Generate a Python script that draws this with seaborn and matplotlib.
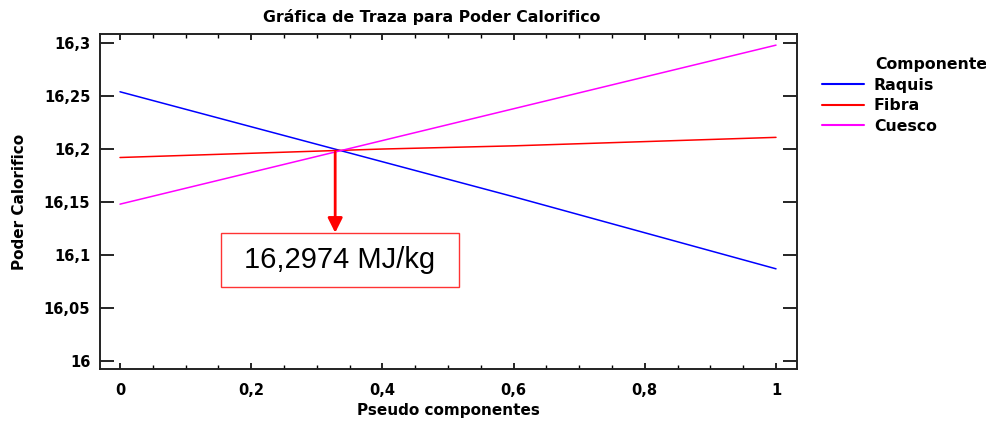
import pandas as pd
import matplotlib.pyplot as plt
import seaborn as sns
from matplotlib.patches import Rectangle

# data
pseudo = [0, 0.2, 0.4, 0.6, 0.8, 1.0]
raquis = [16.254, 16.221, 16.188, 16.155, 16.121, 16.087]
fibra = [16.192, 16.196, 16.200, 16.203, 16.207, 16.211]
cuesco = [16.148, 16.178, 16.208, 16.238, 16.268, 16.298]
componentes = ['Raquis', 'Fibra', 'Cuesco']
colores = ['#0000FF', '#FF0000', '#FF00FF']

# annotation
cruce_x = 0.328
cruce_y = 16.197
flecha_y = 16.121
etiqueta = '16,2974 MJ/kg'

df = pd.DataFrame({
    'Pseudo componentes': pseudo * 3,
    'Poder Calorifico': raquis + fibra + cuesco,
    'Componente': [c for c in componentes for _ in pseudo],
})

sns.set_style('white')
plt.rcParams['font.family'] = ['DejaVu Sans']
plt.rcParams['text.color'] = 'black'
plt.rcParams['axes.labelcolor'] = 'black'
plt.rcParams['xtick.color'] = 'black'
plt.rcParams['ytick.color'] = 'black'

fig = plt.figure(figsize=(9.87, 4.21), dpi=100)
ax = fig.add_axes([100 / 987, 52 / 421, 697 / 987, 335 / 421])

sns.lineplot(data=df, x='Pseudo componentes', y='Poder Calorifico', hue='Componente',
             palette=dict(zip(componentes, colores)), linewidth=1.1, ax=ax)

ax.set_xlim(-0.0305, 1.032)
ax.set_ylim(15.9925, 16.3085)

xt = [0, 0.2, 0.4, 0.6, 0.8, 1.0]
yt = [16, 16.05, 16.1, 16.15, 16.2, 16.25, 16.3]
ax.set_xticks(xt)
ax.set_xticklabels(['0', '0,2', '0,4', '0,6', '0,8', '1'], fontsize=10.5, fontweight='bold')
ax.set_xticks([0.05, 0.1, 0.15, 0.25, 0.3, 0.35, 0.45, 0.5, 0.55, 0.65, 0.7, 0.75,
               0.85, 0.9, 0.95], minor=True)
ax.set_yticks(yt)
ax.set_yticklabels(['16', '16,05', '16,1', '16,15', '16,2', '16,25', '16,3'],
                   fontsize=10.5, fontweight='bold')

ax.tick_params(axis='y', which='major', direction='in', length=10, width=1.2,
               left=True, right=True, pad=7)
ax.tick_params(axis='x', which='major', direction='in', length=4.5, width=1.2,
               bottom=True, top=True, pad=10)
ax.tick_params(axis='x', which='minor', direction='in', length=3, width=1,
               bottom=True, top=True)
for s in ax.spines.values():
    s.set_color('#222222')
    s.set_linewidth(1.4)

ax.set_xlabel('Pseudo componentes', fontsize=11, fontweight='bold', labelpad=4)
ax.set_ylabel('Poder Calorifico', fontsize=11, fontweight='bold', labelpad=12)
fig.text(432 / 987, 1 - 17 / 421, 'Gráfica de Traza para Poder Calorifico',
         fontsize=11.3, fontweight='bold', ha='center', va='center')

# red arrow and value box
ax.annotate('', xy=(cruce_x, flecha_y), xytext=(cruce_x, cruce_y),
            arrowprops=dict(arrowstyle='-|>', color='#FF0000', lw=2, mutation_scale=22,
                            shrinkA=0, shrinkB=0))
caja_x, caja_y = 0.335, 16.0953
ax.add_patch(Rectangle((caja_x - 0.1814, caja_y - 0.02545), 0.3628, 0.0509,
                       fc='white', ec='#FF3333', lw=1, zorder=3))
ax.text(caja_x, caja_y, etiqueta, fontsize=21, ha='center', va='center',
        family='Liberation Sans', zorder=4)

leg = ax.legend(loc='upper left', bbox_to_anchor=(1.036, 0.87), frameon=False,
                fontsize=11.3, handlelength=2.7, handletextpad=0.6,
                labelspacing=0.35, borderaxespad=0, borderpad=0)
for t in leg.get_texts():
    t.set_fontweight('bold')
for l in leg.get_lines():
    l.set_linewidth(1.5)
fig.text(875 / 987, 1 - 65 / 421, 'Componente', fontsize=11.3, fontweight='bold',
         ha='left', va='center')

fig.savefig('out.png', dpi=100)
